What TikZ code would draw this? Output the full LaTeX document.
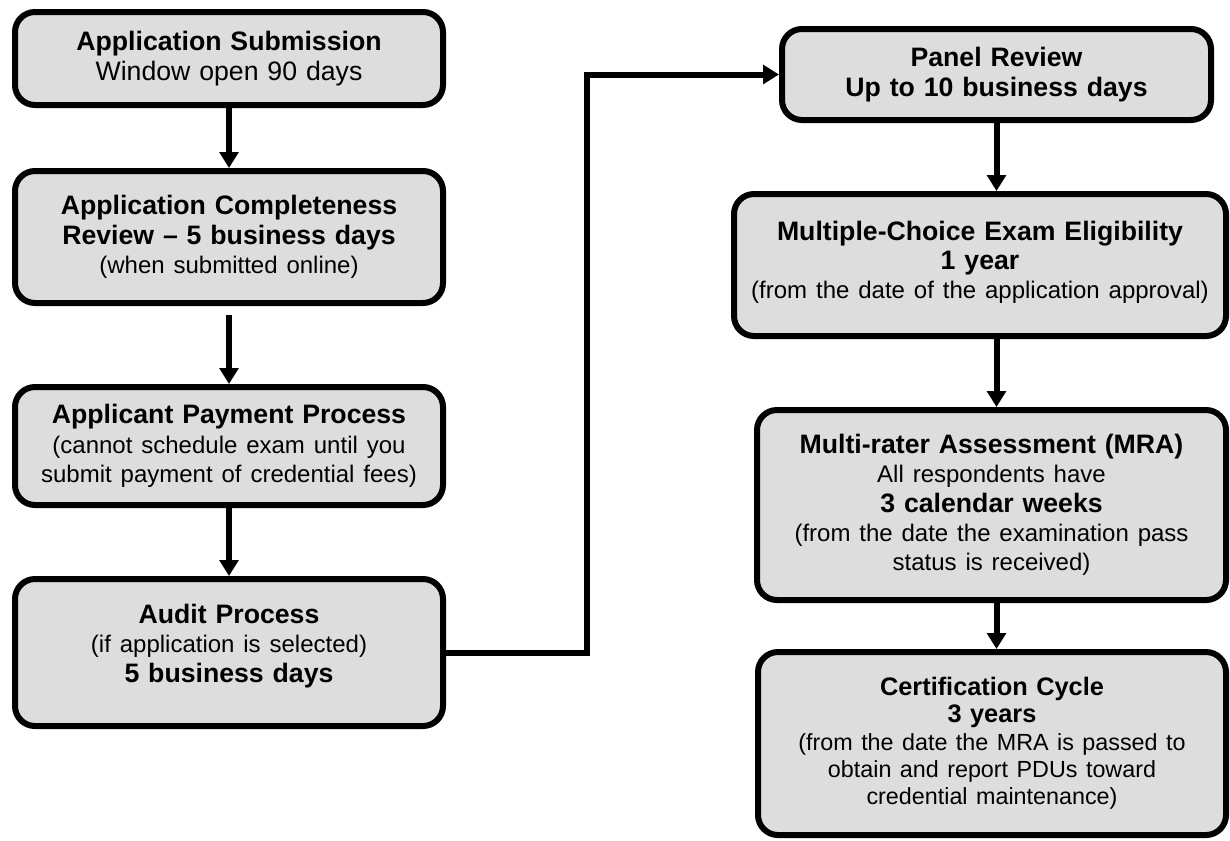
\documentclass[tikz,border=0pt]{standalone}
\usepackage{fontspec}
\setmainfont{Liberation Sans}
\usetikzlibrary{arrows.meta}
\definecolor{boxgray}{RGB}{221,221,221}
\newcommand\notetxt[1]{{\fontsize{18}{20}\selectfont #1}}
\newcommand\smallnote[1]{{\fontsize{17.5}{20}\selectfont #1}}
\tikzset{
  stage/.style={draw=black, fill=boxgray, line width=4.5pt, rounded corners=15pt,
    align=center, inner sep=0pt, font=\fontsize{20}{22}\selectfont},
  flow/.style={line width=4.5pt, -{Triangle[length=12pt,width=14pt]}},
}
\begin{document}
\begin{tikzpicture}[x=0.75pt, y=-0.75pt]
\useasboundingbox (0,0) rectangle (1230,840);

% left column
\node[stage, minimum width=321pt, minimum height=69.75pt, text width=310pt] (sub) at (229,58.5)
  {\textbf{Application Submission}\\Window open 90 days};
\node[stage, minimum width=321pt, minimum height=99pt, text width=310pt] (comp) at (229,237)
  {\textbf{Application Completeness}\\\textbf{Review – 5 business days}\\\notetxt{(when submitted online)}};
\node[stage, minimum width=321pt, minimum height=88.5pt, text width=310pt] (pay) at (229,446)
  {\textbf{Applicant Payment Process}\\\notetxt{(cannot schedule exam until you}\\\notetxt{submit payment of credential fees)}};
\node[stage, minimum width=321pt, minimum height=110.25pt, text width=310pt] (audit) at (229,652.5)
  {\textbf{Audit Process}\\\notetxt{(if application is selected)}\\\textbf{5 business days}\\[-8pt]\mbox{}};

% right column
\node[stage, minimum width=321.75pt, minimum height=68.25pt, text width=310pt] (panel) at (996.5,74.5)
  {\textbf{Panel Review}\\\textbf{Up to 10 business days}};
\node[stage, minimum width=369pt, minimum height=106.5pt, text width=360pt] (mce) at (980,265)
  {\textbf{Multiple-Choice Exam Eligibility}\\\textbf{1 year}\\\notetxt{(from the date of the application approval)}\\[-14pt]\mbox{}};
\node[stage, minimum width=351.75pt, minimum height=142.5pt, text width=340pt] (mra) at (991.5,505)
  {\textbf{Multi-rater Assessment (MRA)}\\\notetxt{All respondents have}\\\textbf{3 calendar weeks}\\\notetxt{(from the date the examination pass}\\\notetxt{status is received)}};
\node[stage, minimum width=351pt, minimum height=137.25pt, text width=340pt,
      font=\fontsize{19}{20.5}\selectfont] (cert) at (992,743.5)
  {\textbf{Certification Cycle}\\\textbf{3 years}\\\smallnote{(from the date the MRA is passed to}\\\smallnote{obtain and report PDUs toward}\\\smallnote{credential maintenance)}};

% connectors
\draw[flow] (sub) -- (comp);
\draw[flow, shorten <=7pt] (comp) -- (pay);
\draw[flow] (pay) -- (audit);
\coordinate (turn) at (587,652.5);
\draw[flow] (audit.east) -- (turn) |- (panel.west);
\draw[flow] (panel.south) -- (panel.south |- mce.north);
\draw[flow] (mce.south -| panel.south) -- (mra.north -| panel.south);
\draw[flow] (mra.south -| panel.south) -- (cert.north -| panel.south);
\end{tikzpicture}
\end{document}
